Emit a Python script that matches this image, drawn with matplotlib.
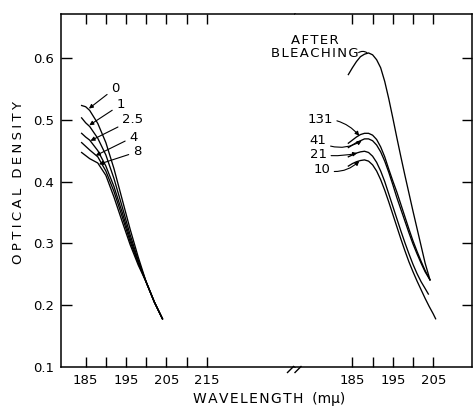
import matplotlib
matplotlib.use('Agg')
import matplotlib.pyplot as plt
from matplotlib.lines import Line2D

# ---------------- data ----------------
# Left panel: before bleaching, curves labelled by time
left_wl = [184, 185, 186, 188, 190, 192, 194, 196, 198, 200, 202, 204]
od_0   = [0.523, 0.521, 0.515, 0.494, 0.463, 0.421, 0.372, 0.323, 0.278, 0.237, 0.205, 0.178]
od_1   = [0.503, 0.495, 0.489, 0.470, 0.443, 0.405, 0.360, 0.314, 0.273, 0.237, 0.205, 0.178]
od_2_5 = [0.478, 0.472, 0.467, 0.450, 0.425, 0.392, 0.351, 0.308, 0.270, 0.237, 0.205, 0.178]
od_4   = [0.463, 0.457, 0.451, 0.440, 0.417, 0.384, 0.344, 0.303, 0.268, 0.237, 0.205, 0.178]
od_8   = [0.447, 0.442, 0.437, 0.430, 0.410, 0.375, 0.336, 0.298, 0.265, 0.237, 0.205, 0.178]
left_series = [od_0, od_1, od_2_5, od_4, od_8]
left_labels = ['0', '1', '2.5', '4', '8']

# Right panel
right_wl = [184, 185, 186, 187, 188, 189, 190, 191, 192, 193, 194,
            195, 196, 197, 198, 199, 200, 201, 202, 203, 204.2]
od_after = [0.573, 0.584, 0.594, 0.602, 0.606, 0.608, 0.605, 0.597, 0.584, 0.562, 0.534,
            0.503, 0.471, 0.440, 0.410, 0.381, 0.352, 0.324, 0.296, 0.268, 0.241]
od_131 = [0.462, 0.467, 0.472, 0.476, 0.478, 0.478, 0.475, 0.468, 0.456, 0.440, 0.420,
          0.401, 0.383, 0.363, 0.343, 0.323, 0.304, 0.287, 0.271, 0.256, 0.241]
od_41 = [0.455, 0.459, 0.463, 0.466, 0.469, 0.469, 0.466, 0.459, 0.448, 0.433, 0.415,
         0.395, 0.374, 0.355, 0.336, 0.317, 0.299, 0.283, 0.268, 0.254, 0.241]
right_wl_21 = [184, 185, 186, 187, 188, 189, 190, 191, 192, 193, 194,
               195, 196, 197, 198, 199, 200, 201, 202, 203, 203.8]
od_21 = [0.440, 0.443, 0.446, 0.448, 0.449, 0.447, 0.441, 0.431, 0.417, 0.400, 0.380,
         0.360, 0.340, 0.320, 0.301, 0.283, 0.266, 0.251, 0.238, 0.227, 0.218]
right_wl_10 = [184, 185, 186, 187, 188, 189, 190, 191, 192, 193, 194,
               195, 196, 197, 198, 199, 200, 201, 202, 203, 204, 205, 205.6]
od_10 = [0.425, 0.429, 0.432, 0.434, 0.435, 0.433, 0.427, 0.417, 0.403, 0.386, 0.367,
         0.347, 0.327, 0.307, 0.288, 0.270, 0.254, 0.239, 0.225, 0.211, 0.198, 0.186, 0.178]

left_ticks = [185, 190, 195, 200, 205, 210, 215]
left_ticklabels = ['185', '', '195', '', '205', '', '215']
right_ticks = [185, 190, 195, 200, 205]
right_ticklabels = ['185', '', '195', '', '205']
y_ticks = [0.1, 0.2, 0.3, 0.4, 0.5, 0.6]
y_ticklabels = ['0.1', '0.2', '0.3', '0.4', '0.5', '0.6']

# ---------------- figure ----------------
W, H = 473, 407
fig = plt.figure(figsize=(W / 100, H / 100), dpi=100)
plt.rcParams['font.family'] = ['DejaVu Sans']

x0, xb, x1 = 61, 295, 472
ytop, ybot = 14, 367
bottom = (H - ybot) / H
height = (ybot - ytop) / H
axL = fig.add_axes([x0 / W, bottom, (xb - x0) / W, height])
axR = fig.add_axes([xb / W, bottom, (x1 - xb) / W, height])

ylim = (0.1, 0.671)
axL.set_xlim(178.9, 236.8)
axR.set_xlim(170.8, 214.6)
for ax in (axL, axR):
    ax.set_ylim(*ylim)
    for s in ax.spines.values():
        s.set_linewidth(1.1)

lw = 0.95
for od in left_series:
    axL.plot(left_wl, od, color='k', lw=lw)
axR.plot(right_wl, od_after, color='k', lw=lw)
axR.plot(right_wl, od_131, color='k', lw=lw)
axR.plot(right_wl, od_41, color='k', lw=lw)
axR.plot(right_wl_21, od_21, color='k', lw=lw)
axR.plot(right_wl_10, od_10, color='k', lw=lw)

# ticks
axL.spines['right'].set_visible(False)
axR.spines['left'].set_visible(False)
axL.set_xticks(left_ticks)
axL.set_xticklabels(left_ticklabels)
axR.set_xticks(right_ticks)
axR.set_xticklabels(right_ticklabels)
axL.set_yticks(y_ticks)
axL.set_yticklabels(y_ticklabels)
axR.set_yticks(y_ticks[1:])
for ax in (axL, axR):
    ax.tick_params(axis='x', direction='in', length=7.5, width=1.0, top=True, bottom=True,
                   labelsize=9.5, pad=5)
axL.tick_params(axis='y', direction='in', length=8, width=1.0, left=True, right=False,
                labelsize=9.5, pad=5)
axR.tick_params(axis='y', direction='in', length=7.5, width=1.0, left=False, right=True,
                labelleft=False, labelright=False)
axL.yaxis.get_major_ticks()[0].tick1line.set_visible(False)

# axis labels
sp = '\u2005'
fig.text(18 / W, 1 - 183 / H, sp.join('OPTICAL') + sp * 3 + sp.join('DENSITY'),
         rotation=90, ha='center', va='center', fontsize=9.5)
fig.text(269 / W, 1 - 399 / H, '\u200a'.join('WAVELENGTH') + '  (m\u03bc)',
         ha='center', va='center', fontsize=10)

# break marks
for dx in (0, 7.5):
    fig.add_artist(Line2D([(287.5 + dx) / W, (293.5 + dx) / W],
                          [1 - 372.5 / H, 1 - 366.5 / H],
                          transform=fig.transFigure, color='k', lw=1.0))

# ---------------- annotations ----------------
aprops = dict(arrowstyle='-|>', color='k', lw=0.8, mutation_scale=6,
              shrinkA=1, shrinkB=0)
left_text_pos = [(192.3, 0.551), (193.6, 0.524), (196.6, 0.500), (196.8, 0.472), (197.7, 0.448)]
left_tips = [(185.8, 0.518), (185.9, 0.491), (186.2, 0.466), (187.5, 0.442), (188.3, 0.428)]
for lab, tp, tip in zip(left_labels, left_text_pos, left_tips):
    axL.annotate(lab, xy=tip, xytext=tp, fontsize=9.5, ha='center', va='center',
                 arrowprops=aprops)

right_labels = ['131', '41', '21', '10']
right_text_pos = [(177.0, 0.501), (176.5, 0.466), (176.6, 0.444), (177.4, 0.420)]
right_tips = [(186.7, 0.474), (187.3, 0.466), (186.2, 0.446), (186.7, 0.433)]
right_rads = [-0.25, 0.3, 0.1, 0.3]
for lab, tp, tip, rad in zip(right_labels, right_text_pos, right_tips, right_rads):
    axR.annotate(lab, xy=tip, xytext=tp, fontsize=9.5, ha='center', va='center',
                 arrowprops=dict(aprops, connectionstyle=f'arc3,rad={rad}'))

axR.annotate('\u200a'.join('AFTER') + '\n' + '\u200a'.join('BLEACHING'),
             xy=(188.6, 0.6085), xytext=(175.7, 0.617), fontsize=9.5, ha='center', va='center',
             linespacing=1.0,
             arrowprops=dict(arrowstyle='-', color='k', lw=0.8, shrinkA=0, shrinkB=0,
                             patchA=None, relpos=(1.0, 0.3),
                             connectionstyle='arc3,rad=-0.3'))

fig.savefig('out.png', dpi=100)
